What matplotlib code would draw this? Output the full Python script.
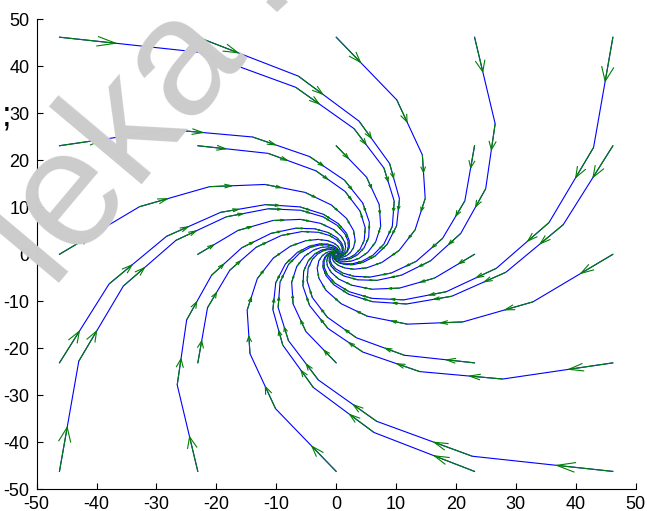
import numpy as np
import matplotlib
matplotlib.use("Agg")
import matplotlib.pyplot as plt
from matplotlib.collections import LineCollection
from matplotlib.patches import Polygon

plt.rcParams['font.family'] = ['Liberation Sans', 'DejaVu Sans']
plt.rcParams['axes.unicode_minus'] = False

# trajectory vertices, one list per starting point
traj_x = [
    [46.2, 32.85, 21.14, 11.88, 5.19, 0.81, -1.72, -2.90, -3.17, -2.90, -2.37, -1.77, -1.20, -0.73, -0.37, -0.12, 0.03],
    [-46.2, -32.85, -21.14, -11.88, -5.19, -0.81, 1.72, 2.90, 3.17, 2.90, 2.37, 1.77, 1.20, 0.73, 0.37, 0.12, -0.03],
    [0, 10.12, 14.39, 14.86, 13.17, 10.50, 7.64, 5.06, 2.96, 1.41, 0.37, -0.26, -0.57, -0.67, -0.63, -0.53, -0.41],
    [0, -10.12, -14.39, -14.86, -13.17, -10.50, -7.64, -5.06, -2.96, -1.41, -0.37, 0.26, 0.57, 0.67, 0.63, 0.53, 0.41],
    [46.2, 42.97, 35.53, 26.74, 18.36, 11.31, 5.92, 2.16, -0.21, -1.49, -2.00, -2.02, -1.77, -1.40, -1.01, -0.66, -0.38],
    [-46.2, -42.97, -35.53, -26.74, -18.36, -11.31, -5.92, -2.16, 0.21, 1.49, 2.00, 2.02, 1.77, 1.40, 1.01, 0.66, 0.38],
    [-46.2, -22.73, -6.75, 2.98, 7.97, 9.69, 9.37, 7.96, 6.13, 4.31, 2.74, 1.51, 0.63, 0.06, -0.26, -0.41, -0.43],
    [46.2, 22.73, 6.75, -2.98, -7.97, -9.69, -9.37, -7.96, -6.13, -4.31, -2.74, -1.51, -0.63, -0.06, 0.26, 0.41, 0.43],
    [23.1, 26.54, 24.96, 20.80, 15.76, 10.90, 6.78, 3.61, 1.37, -0.04, -0.82, -1.14, -1.17, -1.03, -0.82, -0.59, -0.39],
    [-23.1, -26.54, -24.96, -20.80, -15.76, -10.90, -6.78, -3.61, -1.37, 0.04, 0.82, 1.14, 1.17, 1.03, 0.82, 0.59, 0.39],
    [-23.1, -6.31, 3.82, 8.92, 10.57, 10.09, 8.50, 6.51, 4.54, 2.86, 1.55, 0.63, 0.03, -0.30, -0.45, -0.47, -0.42],
    [23.1, 6.31, -3.82, -8.92, -10.57, -10.09, -8.50, -6.51, -4.54, -2.86, -1.55, -0.63, -0.03, 0.30, 0.45, 0.47, 0.42],
    [46.2, 37.91, 28.33, 19.31, 11.78, 6.06, 2.10, -0.37, -1.69, -2.20, -2.19, -1.90, -1.49, -1.06, -0.69, -0.39, -0.18],
    [-46.2, -37.91, -28.33, -19.31, -11.78, -6.06, -2.10, 0.37, 1.69, 2.20, 2.19, 1.90, 1.49, 1.06, 0.69, 0.39, 0.18],
    [46.2, 27.79, 13.95, 4.45, -1.39, -4.44, -5.55, -5.43, -4.65, -3.61, -2.56, -1.64, -0.92, -0.39, -0.06, 0.14, 0.23],
    [-46.2, -27.79, -13.95, -4.45, 1.39, 4.44, 5.55, 5.43, 4.65, 3.61, 2.56, 1.64, 0.92, 0.39, 0.06, -0.14, -0.23],
    [23.1, 21.48, 17.76, 13.37, 9.18, 5.65, 2.96, 1.08, -0.11, -0.75, -1.00, -1.01, -0.89, -0.70, -0.50, -0.33, -0.19],
    [-23.1, -21.48, -17.76, -13.37, -9.18, -5.65, -2.96, -1.08, 0.11, 0.75, 1.00, 1.01, 0.89, 0.70, 0.50, 0.33, 0.19],
    [-23.1, -11.37, -3.38, 1.49, 3.99, 4.85, 4.68, 3.98, 3.06, 2.16, 1.37, 0.75, 0.32, 0.03, -0.13, -0.20, -0.22],
    [23.1, 11.37, 3.38, -1.49, -3.99, -4.85, -4.68, -3.98, -3.06, -2.16, -1.37, -0.75, -0.32, -0.03, 0.13, 0.20, 0.22],
    [0, 5.06, 7.19, 7.43, 6.58, 5.25, 3.82, 2.53, 1.48, 0.71, 0.18, -0.13, -0.29, -0.33, -0.32, -0.27, -0.20],
    [0, -5.06, -7.19, -7.43, -6.58, -5.25, -3.82, -2.53, -1.48, -0.71, -0.18, 0.13, 0.29, 0.33, 0.32, 0.27, 0.20],
    [23.1, 16.42, 10.57, 5.94, 2.60, 0.40, -0.86, -1.45, -1.58, -1.45, -1.19, -0.88, -0.60, -0.36, -0.19, -0.06, 0.01],
    [-23.1, -16.42, -10.57, -5.94, -2.60, -0.40, 0.86, 1.45, 1.58, 1.45, 1.19, 0.88, 0.60, 0.36, 0.19, 0.06, -0.01],
]
traj_y = [
    [0, -10.12, -14.39, -14.86, -13.17, -10.50, -7.64, -5.06, -2.96, -1.41, -0.37, 0.26, 0.57, 0.67, 0.63, 0.53, 0.41],
    [0, 10.12, 14.39, 14.86, 13.17, 10.50, 7.64, 5.06, 2.96, 1.41, 0.37, -0.26, -0.57, -0.67, -0.63, -0.53, -0.41],
    [46.2, 32.85, 21.14, 11.88, 5.19, 0.81, -1.72, -2.90, -3.17, -2.90, -2.37, -1.77, -1.20, -0.73, -0.37, -0.12, 0.03],
    [-46.2, -32.85, -21.14, -11.88, -5.19, -0.81, 1.72, 2.90, 3.17, 2.90, 2.37, 1.77, 1.20, 0.73, 0.37, 0.12, -0.03],
    [46.2, 22.73, 6.75, -2.98, -7.97, -9.69, -9.37, -7.96, -6.13, -4.31, -2.74, -1.51, -0.63, -0.06, 0.26, 0.41, 0.43],
    [-46.2, -22.73, -6.75, 2.98, 7.97, 9.69, 9.37, 7.96, 6.13, 4.31, 2.74, 1.51, 0.63, 0.06, -0.26, -0.41, -0.43],
    [46.2, 42.97, 35.53, 26.74, 18.36, 11.31, 5.92, 2.16, -0.21, -1.49, -2.00, -2.02, -1.77, -1.40, -1.01, -0.66, -0.38],
    [-46.2, -42.97, -35.53, -26.74, -18.36, -11.31, -5.92, -2.16, 0.21, 1.49, 2.00, 2.02, 1.77, 1.40, 1.01, 0.66, 0.38],
    [46.2, 27.79, 13.95, 4.45, -1.39, -4.44, -5.55, -5.43, -4.65, -3.61, -2.56, -1.64, -0.92, -0.39, -0.06, 0.14, 0.23],
    [-46.2, -27.79, -13.95, -4.45, 1.39, 4.44, 5.55, 5.43, 4.65, 3.61, 2.56, 1.64, 0.92, 0.39, 0.06, -0.14, -0.23],
    [46.2, 37.91, 28.33, 19.31, 11.78, 6.06, 2.10, -0.37, -1.69, -2.20, -2.19, -1.90, -1.49, -1.06, -0.69, -0.39, -0.18],
    [-46.2, -37.91, -28.33, -19.31, -11.78, -6.06, -2.10, 0.37, 1.69, 2.20, 2.19, 1.90, 1.49, 1.06, 0.69, 0.39, 0.18],
    [23.1, 6.31, -3.82, -8.92, -10.57, -10.09, -8.50, -6.51, -4.54, -2.86, -1.55, -0.63, -0.03, 0.30, 0.45, 0.47, 0.42],
    [-23.1, -6.31, 3.82, 8.92, 10.57, 10.09, 8.50, 6.51, 4.54, 2.86, 1.55, 0.63, 0.03, -0.30, -0.45, -0.47, -0.42],
    [-23.1, -26.54, -24.96, -20.80, -15.76, -10.90, -6.78, -3.61, -1.37, 0.04, 0.82, 1.14, 1.17, 1.03, 0.82, 0.59, 0.39],
    [23.1, 26.54, 24.96, 20.80, 15.76, 10.90, 6.78, 3.61, 1.37, -0.04, -0.82, -1.14, -1.17, -1.03, -0.82, -0.59, -0.39],
    [23.1, 11.37, 3.38, -1.49, -3.99, -4.85, -4.68, -3.98, -3.06, -2.16, -1.37, -0.75, -0.32, -0.03, 0.13, 0.20, 0.22],
    [-23.1, -11.37, -3.38, 1.49, 3.99, 4.85, 4.68, 3.98, 3.06, 2.16, 1.37, 0.75, 0.32, 0.03, -0.13, -0.20, -0.22],
    [23.1, 21.48, 17.76, 13.37, 9.18, 5.65, 2.96, 1.08, -0.11, -0.75, -1.00, -1.01, -0.89, -0.70, -0.50, -0.33, -0.19],
    [-23.1, -21.48, -17.76, -13.37, -9.18, -5.65, -2.96, -1.08, 0.11, 0.75, 1.00, 1.01, 0.89, 0.70, 0.50, 0.33, 0.19],
    [23.1, 16.42, 10.57, 5.94, 2.60, 0.40, -0.86, -1.45, -1.58, -1.45, -1.19, -0.88, -0.60, -0.36, -0.19, -0.06, 0.01],
    [-23.1, -16.42, -10.57, -5.94, -2.60, -0.40, 0.86, 1.45, 1.58, 1.45, 1.19, 0.88, 0.60, 0.36, 0.19, 0.06, -0.01],
    [0, -5.06, -7.19, -7.43, -6.58, -5.25, -3.82, -2.53, -1.48, -0.71, -0.18, 0.13, 0.29, 0.33, 0.32, 0.27, 0.20],
    [0, 5.06, 7.19, 7.43, 6.58, 5.25, 3.82, 2.53, 1.48, 0.71, 0.18, -0.13, -0.29, -0.33, -0.32, -0.27, -0.20],
]

ticks = [-50, -40, -30, -20, -10, 0, 10, 20, 30, 40, 50]

arrow_scale = 0.4      # arrow length as a fraction of the step to the next point
head_len = 0.33
head_wid = 0.33

W, H = 647, 511
fig = plt.figure(figsize=(W / 100, H / 100), dpi=100)

# grey watermark sitting behind the axes
wm_grey = '#cccccc'
fig.text(0.176, 0.730, 'leka', rotation=50, fontsize=120, color=wm_grey,
         ha='center', va='center', zorder=0)
dot = [(277, 12), (288, 2), (277, -9), (266, 2)]
fig.patches.append(Polygon([(px / W, 1 - py / H) for px, py in dot], closed=True,
                           transform=fig.transFigure, facecolor=wm_grey,
                           edgecolor='none', zorder=0))
fig.text(0.011, 0.755, ';', fontsize=25, color='black', ha='center', va='baseline')

ax = fig.add_axes([0.0567, 0.0425, 0.9258, 0.9197])
ax.patch.set_alpha(0)

for xs, ys in zip(traj_x, traj_y):
    ax.plot(xs, ys, color='blue', lw=0.8, zorder=2)

# quiver-style arrows with open heads, tail at each vertex
segs = []
for xs, ys in zip(traj_x, traj_y):
    xs = np.asarray(xs)
    ys = np.asarray(ys)
    u = arrow_scale * np.diff(xs)
    v = arrow_scale * np.diff(ys)
    x0, y0 = xs[:-1], ys[:-1]
    tx, ty = x0 + u, y0 + v
    for i in range(len(u)):
        segs.append([(x0[i], y0[i]), (tx[i], ty[i])])
        b1 = (tx[i] - head_len * (u[i] + head_wid * v[i]), ty[i] - head_len * (v[i] - head_wid * u[i]))
        b2 = (tx[i] - head_len * (u[i] - head_wid * v[i]), ty[i] - head_len * (v[i] + head_wid * u[i]))
        segs.append([b1, (tx[i], ty[i]), b2])
ax.add_collection(LineCollection(segs, colors='#008000', linewidths=0.8, zorder=3))

ax.set_xlim(-50, 50)
ax.set_ylim(-50, 50)
ax.set_xticks(ticks)
ax.set_yticks(ticks)
ax.spines['top'].set_visible(False)
ax.spines['right'].set_visible(False)
ax.tick_params(direction='in', length=4.3, width=0.8, labelsize=13, pad=5)

fig.savefig('out.png', dpi=100)
